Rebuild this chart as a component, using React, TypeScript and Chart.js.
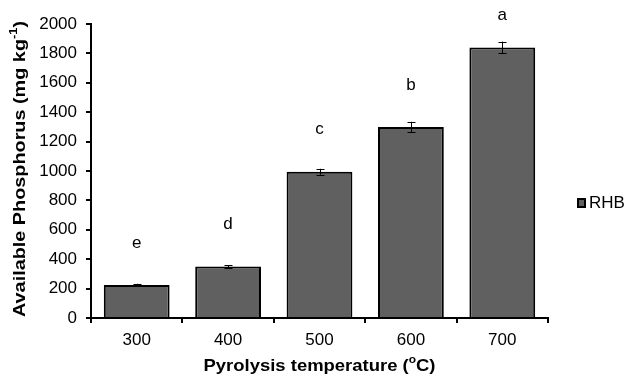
import React, { useEffect, useRef } from "react";
import { Chart, registerables } from "chart.js";

Chart.register(...registerables);

const categories = ["300", "400", "500", "600", "700"];
const values = [225, 350, 995, 1300, 1840];
const errors = [8, 10, 20, 35, 40];
const letters = ["e", "d", "c", "b", "a"];
const seriesName = "RHB";
const yTicks = [0, 200, 400, 600, 800, 1000, 1200, 1400, 1600, 1800, 2000];

const FONT = "'Liberation Sans', Arial, sans-serif";

// draws text with a superscript part, fitted to a target width, centred at (0,0)
function drawSupTitle(ctx: any, parts: [string, string, string], size: number, target: number) {
  const big = `bold ${size}px ${FONT}`;
  const small = `bold ${Math.round(size * 0.62)}px ${FONT}`;
  ctx.font = big;
  const w1 = ctx.measureText(parts[0]).width;
  ctx.font = small;
  const w2 = ctx.measureText(parts[1]).width;
  ctx.font = big;
  const w3 = ctx.measureText(parts[2]).width;
  const total = w1 + w2 + w3;
  const k = target / total;
  ctx.save();
  ctx.scale(k, 1);
  let x = -total / 2;
  ctx.textAlign = "left";
  ctx.textBaseline = "middle";
  ctx.font = big;
  ctx.fillText(parts[0], x, 0);
  x += w1;
  ctx.font = small;
  ctx.fillText(parts[1], x, -size * 0.36);
  x += w2;
  ctx.font = big;
  ctx.fillText(parts[2], x, 0);
  ctx.restore();
}

const overlay = {
  id: "overlay",
  afterDatasetsDraw(chart: any) {
    const ctx = chart.ctx;
    const meta = chart.getDatasetMeta(0);
    const y = chart.scales.y;
    const area = chart.chartArea;
    ctx.save();
    // error bars
    ctx.strokeStyle = "#000";
    ctx.lineWidth = 1;
    meta.data.forEach((bar: any, i: number) => {
      const x = Math.round(bar.x) + 0.5;
      const yHi = y.getPixelForValue(values[i] + errors[i]);
      const yLo = y.getPixelForValue(values[i] - errors[i]);
      ctx.beginPath();
      ctx.moveTo(x, yHi);
      ctx.lineTo(x, yLo);
      ctx.moveTo(x - 4, Math.round(yHi) + 0.5);
      ctx.lineTo(x + 4, Math.round(yHi) + 0.5);
      ctx.moveTo(x - 4, Math.round(yLo) + 0.5);
      ctx.lineTo(x + 4, Math.round(yLo) + 0.5);
      ctx.stroke();
    });
    // letters
    ctx.fillStyle = "#000";
    ctx.font = `17px ${FONT}`;
    ctx.textAlign = "center";
    ctx.textBaseline = "middle";
    meta.data.forEach((bar: any, i: number) => {
      const top = y.getPixelForValue(values[i]);
      const ly = Math.max(top - 42, 15);
      ctx.fillText(letters[i], bar.x, ly);
    });
    // y title
    ctx.save();
    ctx.translate(20, (area.top + area.bottom) / 2 - 2);
    ctx.rotate(-Math.PI / 2);
    drawSupTitle(ctx, ["Available Phosphorus (mg kg", "-1", ")"], 17, 296);
    ctx.restore();
    // x title
    ctx.save();
    ctx.translate((area.left + area.right) / 2, 366);
    drawSupTitle(ctx, ["Pyrolysis temperature (", "o", "C)"], 17, 232);
    ctx.restore();
    // legend
    ctx.fillStyle = "#606060";
    ctx.strokeStyle = "#000";
    ctx.lineWidth = 2;
    ctx.fillRect(578, 199, 7, 8);
    ctx.strokeRect(578, 199, 7, 8);
    ctx.fillStyle = "#000";
    ctx.font = `17px ${FONT}`;
    ctx.textAlign = "left";
    ctx.textBaseline = "middle";
    ctx.fillText(seriesName, 589, 203);
    ctx.restore();
  },
};

export default function App() {
  const ref = useRef<HTMLCanvasElement | null>(null);
  useEffect(() => {
    if (!ref.current) return;
    const chart = new Chart(ref.current, {
      type: "bar",
      data: {
        labels: categories,
        datasets: [
          {
            label: seriesName,
            data: values,
            backgroundColor: "#606060",
            borderColor: "#000",
            borderWidth: 2,
            categoryPercentage: 0.72,
            barPercentage: 1,
          },
        ],
      },
      options: {
        animation: false,
        responsive: false,
        layout: { padding: { top: 24, right: 81, left: 0, bottom: 0 } },
        plugins: { legend: { display: false }, tooltip: { enabled: false } },
        scales: {
          x: {
            grid: {
              drawOnChartArea: false,
              drawTicks: true,
              tickLength: 5,
              color: "#000",
              lineWidth: 2,
            },
            border: { display: true, color: "#000", width: 2 },
            ticks: { color: "#000", font: { family: FONT, size: 17 }, padding: 7 },
            afterFit: (s: any) => {
              s.height = 58;
            },
          },
          y: {
            min: 0,
            max: 2000,
            afterBuildTicks: (s: any) => {
              s.ticks = yTicks.map((v) => ({ value: v }));
            },
            grid: {
              drawOnChartArea: false,
              drawTicks: true,
              tickLength: 5,
              color: "#000",
              lineWidth: 2,
            },
            border: { display: true, color: "#000", width: 2 },
            ticks: {
              color: "#000",
              font: { family: FONT, size: 17 },
              padding: 9,
              callback: (v: any) => String(v),
            },
            afterFit: (s: any) => {
              s.width = 91;
            },
          },
        },
      },
      plugins: [overlay],
    });
    return () => chart.destroy();
  }, []);
  return (
    <div style={{ position: "fixed", left: 0, top: 0, width: 629, height: 376, background: "#fff" }}>
      <canvas ref={ref} width={629} height={376} />
    </div>
  );
}
